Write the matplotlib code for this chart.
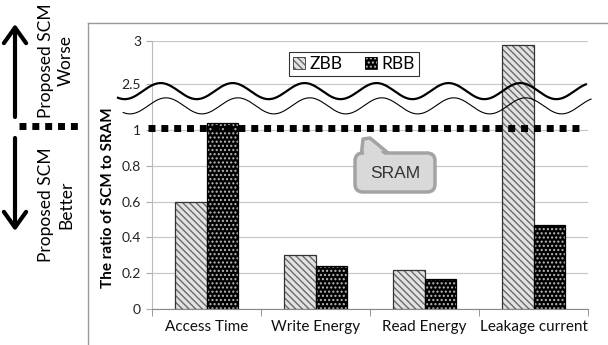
"""
Ratio of SCM to SRAM (ZBB vs RBB) with a broken y axis.
"""

import numpy as np
import matplotlib
matplotlib.use("Agg")
import matplotlib.pyplot as plt
import matplotlib.transforms as mtransforms
from matplotlib.patches import Rectangle, FancyArrowPatch, FancyBboxPatch, Polygon
from matplotlib.lines import Line2D
from matplotlib.legend_handler import HandlerTuple

# ── Data ──────────────────────────────────────────────────────────────────────
categories = ["Access Time", "Write Energy", "Read Energy", "Leakage current"]
zbb = [0.60, 0.30, 0.22, 2.95]
rbb = [1.04, 0.24, 0.17, 0.47]
yticks = [0, 0.2, 0.4, 0.6, 0.8, 1, 2.5, 3]
ytick_labels = ["0", "0.2", "0.4", "0.6", "0.8", "1", "2.5", "3"]
sram_level = 1.0

# ── Broken axis scale (value -> display units) ───────────────────────────────
VB = [-1.0, 1.15, 2.5, 4.0]
UB = [-1.0, 1.15, 1.257, 1.977]


def fwd(v):
    return np.interp(v, VB, UB)


def inv(u):
    return np.interp(u, UB, VB)


plt.rcParams["font.family"] = ["Lato", "DejaVu Sans"]

W, H = 608, 345
fig = plt.figure(figsize=(W / 100, H / 100), dpi=100)
# figure pixel coordinates (origin top-left) for the decorations
px = mtransforms.Affine2D().scale(1 / W, -1 / H).translate(0, 1) + fig.transFigure

ax = fig.add_axes([152 / W, 1 - 309 / H, 436 / W, 268 / H])
ax.set_yscale("function", functions=(fwd, inv))
ax.set_ylim(0, 3)
ax.set_xlim(-0.5, len(categories) - 0.5)

x = np.arange(len(categories))
bw = 0.29

# ZBB: light gray with diagonal hatch
ax.bar(x - bw / 2, zbb, bw, facecolor="#e2e2e2", edgecolor="#6a6a6a",
       hatch="\\\\\\\\\\", linewidth=0, zorder=3)
ax.bar(x - bw / 2, zbb, bw, facecolor="none", edgecolor="#333333",
       linewidth=0.9, zorder=3.1)
# RBB: black with white dots
ax.bar(x + bw / 2, rbb, bw, facecolor="black", edgecolor="#bbbbbb",
       hatch="....", linewidth=0, zorder=3)
ax.bar(x + bw / 2, rbb, bw, facecolor="none", edgecolor="black",
       linewidth=0.9, zorder=3.1)

# axes styling
ax.set_yticks(yticks)
ax.set_yticklabels(ytick_labels, fontsize=10, color="#222222")
ax.set_xticks(x)
ax.set_xticklabels(categories, fontsize=11, color="#111111")
ax.set_xticks(np.arange(len(categories) + 1) - 0.5, minor=True)
ax.tick_params(axis="x", which="major", length=0, pad=8)
ax.tick_params(axis="x", which="minor", length=5, color="#888888")
ax.tick_params(axis="y", length=4, color="#aaaaaa", pad=4)
ax.yaxis.grid(True, color="#c8c8c8", linewidth=0.9, zorder=0)
ax.set_axisbelow(True)
for side in ("top", "right"):
    ax.spines[side].set_visible(False)
ax.spines["left"].set_color("#bbbbbb")
ax.spines["bottom"].set_color("#888888")
ax.set_ylabel("The ratio of SCM to SRAM", fontsize=11, fontweight="bold")
ax.yaxis.set_label_coords(-0.085, (309 - 198) / 268)

# SRAM reference line (dotted)
ax.axhline(sram_level + 0.012, xmin=-0.01, xmax=0.99, color="black", lw=5,
           linestyle=(0, (1, 0.85)), dash_capstyle="butt", zorder=4,
           clip_on=False)

# wavy break band, drawn in axes fraction
t = np.linspace(-0.078, 0.995, 400)
period = 0.165
upper = 0.813 + 0.030 * np.cos(2 * np.pi * (t - 0.020) / period)
lower = upper - 0.055
band = Polygon(np.column_stack([np.r_[t, t[::-1] + 0.012],
                                np.r_[upper, lower[::-1]]]),
               closed=True, facecolor="white", edgecolor="none",
               transform=ax.transAxes, zorder=2.5, clip_on=False)
ax.add_patch(band)
ax.plot(t, upper, color="black", lw=1.6, transform=ax.transAxes, zorder=5,
        clip_on=False)
ax.plot(t + 0.012, lower, color="black", lw=0.8, transform=ax.transAxes,
        zorder=5, clip_on=False)

# legend
h_zbb = (Rectangle((0, 0), 1, 1, fc="#e2e2e2", ec="#6a6a6a", hatch="\\\\\\\\\\", lw=0),
         Rectangle((0, 0), 1, 1, fc="none", ec="#333333", lw=0.6))
h_rbb = (Rectangle((0, 0), 1, 1, fc="black", ec="#bbbbbb", hatch="....", lw=0),
         Rectangle((0, 0), 1, 1, fc="none", ec="black", lw=0.6))
leg = ax.legend([h_zbb, h_rbb], ["ZBB", "RBB"],
                handler_map={tuple: HandlerTuple(ndivide=1, pad=0)},
                loc="center", bbox_to_anchor=(0.463, 0.914), ncol=2,
                fontsize=12.5, frameon=True, fancybox=False, edgecolor="black",
                handlelength=0.7, handleheight=0.7, handletextpad=0.25,
                columnspacing=1.3, borderpad=0.25, borderaxespad=0)
leg.get_frame().set_linewidth(0.8)
leg.set_zorder(6)

# SRAM callout (figure pixel coordinates)
call_fc, call_ec = "#d9d9d9", "#a3a3a3"
tail = [(361, 158), (363, 139), (370, 138), (394, 158)]
fig.add_artist(Polygon(tail, closed=True, transform=px, fc=call_fc,
                       ec=call_ec, lw=2.5, joinstyle="round", zorder=6))
fig.add_artist(FancyBboxPatch((355, 153), 80, 39,
                              boxstyle="round,pad=0,rounding_size=8",
                              transform=px, fc=call_fc, ec=call_ec, lw=2.5,
                              zorder=6.1))
cover = [(363.5, 160), (365, 141), (369, 141), (390, 160)]
fig.add_artist(Polygon(cover, closed=True, transform=px, fc=call_fc,
                       ec="none", zorder=6.2))
fig.text(395 / W, 1 - 173 / H, "SRAM", ha="center", va="center",
         fontsize=12.5, color="#333333", zorder=6.3,
         family=["Liberation Sans", "DejaVu Sans"])

# chart area border
fig.add_artist(Line2D([88, W], [23, 23], transform=px, color="#999999", lw=1))
fig.add_artist(Line2D([88, 88], [23, H], transform=px, color="#999999", lw=1))

# left side annotations
fig.add_artist(Line2D([19, 82], [126, 126], transform=px, color="black", lw=5,
                      linestyle=(0, (1, 0.85)), dash_capstyle="butt"))
fig.add_artist(FancyArrowPatch((15, 117), (15, 24), transform=px,
                               arrowstyle="->,head_length=7,head_width=5",
                               lw=3, color="black", mutation_scale=1.6,
                               shrinkA=0, shrinkB=0))
fig.add_artist(FancyArrowPatch((15, 138), (15, 231), transform=px,
                               arrowstyle="->,head_length=7,head_width=5",
                               lw=3, color="black", mutation_scale=1.6,
                               shrinkA=0, shrinkB=0))
fig.text(56 / W, 1 - 61 / H, "Proposed SCM\nWorse", rotation=90,
         ha="center", va="center", multialignment="center", fontsize=12.5,
         linespacing=1.3)
fig.text(56 / W, 1 - 205 / H, "Proposed SCM\nBetter", rotation=90,
         ha="center", va="center", multialignment="center", fontsize=12.5,
         linespacing=1.3)

fig.savefig("out.png", dpi=100)
